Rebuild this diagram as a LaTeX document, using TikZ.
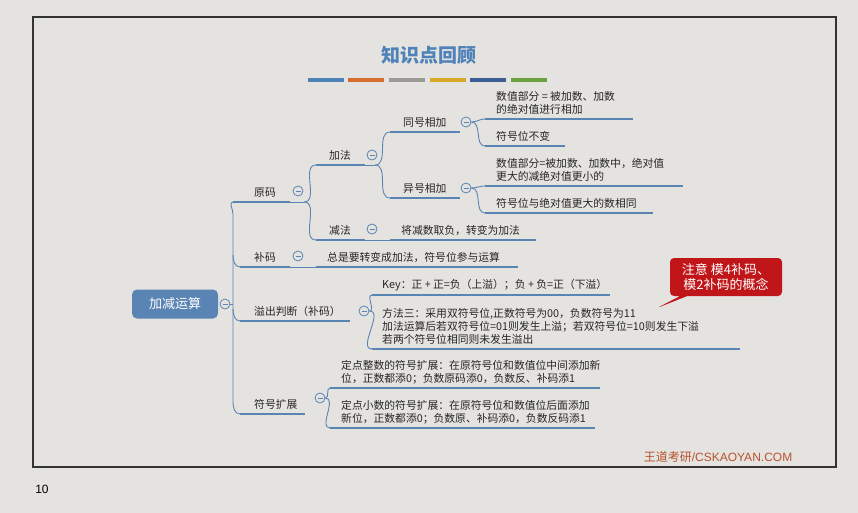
\documentclass[tikz,border=0pt]{standalone}
\usepackage{fontspec}
\setmainfont{Liberation Sans}
\newfontfamily\cjk{Noto Sans CJK SC}
\usetikzlibrary{shapes.callouts}
\definecolor{bg}{HTML}{E5E3E0}
\definecolor{ln}{HTML}{5A84B4}
\definecolor{tt}{HTML}{4F82B8}
\definecolor{rd}{HTML}{C0161A}
\definecolor{wm}{HTML}{B8522E}
\begin{document}
\begin{tikzpicture}[x=1pt,y=-1pt,
  txt/.style={anchor=south west,inner sep=1pt,align=left,font=\cjk\fontsize{10.8}{13}\selectfont,text=black!85},
  ul/.style={ln,line width=2.4pt},
  cn/.style={ln,line width=0.9pt},
  tog/.style={circle,draw=ln,line width=0.8pt,minimum size=10pt,inner sep=0pt,
    path picture={\draw[ln,line width=0.7pt] ([xshift=-2.5pt]path picture bounding box.center) -- ([xshift=2.5pt]path picture bounding box.center);}}]
\fill[bg] (0,0) rectangle (858,513);
\useasboundingbox (0,0) rectangle (858,513);
\draw[black!80,line width=1.2pt] (33,17) rectangle (836,467);
\node[font=\fontsize{12}{12}\selectfont] (pg) at (42,489) {10};
\node[font=\cjk\bfseries\fontsize{19}{19}\selectfont,text=tt] (title) at (429,55) {知识点回顾};
\foreach \a/\c in {308/4F82B8,348/D46E2C,389/9A9A9A,430/D8A82A,470/3E5E96,511/6AA040}{
  \definecolor{barc}{HTML}{\c}
  \fill[barc] (\a,78) rectangle ++(36,4);}
% root
\node[fill=ln,rounded corners=5pt,minimum width=86pt,minimum height=29pt,text=white,font=\cjk\fontsize{13}{13}\selectfont] (root) at (175,304) {加减运算};
\node[tog] (t0) at (225,304) {};
\newcommand\mitem[6]{% name, x1, x2, y, text x, text
  \draw[ul] (#2,#4) coordinate (#1s) -- (#3,#4) coordinate (#1e);
  \node[txt] (#1) at (#5,#4-3) {#6};}
\mitem{ym}{233}{290}{202}{253}{原码}
\mitem{bm}{240}{290}{267}{253}{补码}
\mitem{yc}{240}{350}{321}{253}{溢出判断（补码）}
\mitem{fh}{240}{305}{414}{253}{符号扩展}
\node[tog] (tym) at (298,191) {};
\node[tog] (tbm) at (298,256) {};
\node[tog] (tyc) at (364,311) {};
\node[tog] (tfh) at (320,398) {};
\draw[cn] (t0.east) -- (233,304);
\draw[cn] (233,304) -- (233,214) to[out=90,in=180] (yms);
\draw[cn] (233,304) -- (233,402) to[out=-90,in=180] (fhs);
\draw[cn] (233,255) to[out=-90,in=180] (bms);
\draw[cn] (233,309) to[out=-90,in=180] (ycs);
\mitem{jf}{316}{365}{165}{328}{加法}
\mitem{jn}{316}{365}{240}{328}{减法}
\node[tog] (tjf) at (372,155) {};
\node[tog] (tjn) at (372,229) {};
\draw[cn] (yme) -- ++(14,0) coordinate (f1);
\draw[cn] (f1) to[out=0,in=180] (jfs);
\draw[cn] (f1) to[out=0,in=180] (jns);
\mitem{th}{390}{460}{132}{402}{同号相加}
\mitem{yh}{390}{460}{198}{402}{异号相加}
\node[tog] (tth) at (466,122) {};
\node[tog] (tyh) at (466,188) {};
\draw[cn] (jfe) -- ++(10,0) coordinate (f2);
\draw[cn] (f2) to[out=0,in=180] (ths);
\draw[cn] (f2) to[out=0,in=180] (yhs);
\mitem{a1}{485}{633}{119}{495}{数值部分 = 被加数、加数\\的绝对值进行相加}
\mitem{a2}{485}{565}{146}{495}{符号位不变}
\draw[cn] (tth.east) to[out=0,in=180] (a1s);
\draw[cn] (tth.east) to[out=0,in=180] (a2s);
\mitem{b1}{485}{683}{186}{495}{数值部分=被加数、加数中，绝对值\\更大的减绝对值更小的}
\mitem{b2}{485}{653}{213}{495}{符号位与绝对值更大的数相同}
\draw[cn] (tyh.east) to[out=0,in=180] (b1s);
\draw[cn] (tyh.east) to[out=0,in=180] (b2s);
\mitem{c1}{390}{536}{240}{400}{将减数取负，转变为加法}
\draw[cn] (jne) -- (c1s);
\mitem{d1}{316}{518}{267}{326}{总是要转变成加法，符号位参与运算}
\draw[cn] (bme) -- (d1s);
\mitem{e1}{372}{610}{295}{381}{Key：正 + 正=负（上溢）；负 + 负=正（下溢）}
\mitem{e2}{372}{740}{349}{381}{方法三：采用双符号位,正数符号为00，负数符号为11\\加法运算后若双符号位=01则发生上溢；若双符号位=10则发生下溢\\若两个符号位相同则未发生溢出}
\draw[cn] (tyc.east) to[out=0,in=180] (e1s);
\draw[cn] (tyc.east) to[out=0,in=180] (e2s);
\mitem{g1}{330}{600}{388}{340}{定点整数的符号扩展：在原符号位和数值位中间添加新\\位，正数都添0；负数原码添0，负数反、补码添1}
\mitem{g2}{330}{595}{428}{340}{定点小数的符号扩展：在原符号位和数值位后面添加\\新位，正数都添0；负数原、补码添0，负数反码添1}
\draw[cn] (tfh.east) to[out=0,in=180] (g1s);
\draw[cn] (tfh.east) to[out=0,in=180] (g2s);
\node[rectangle callout,fill=rd,rounded corners=4pt,text=white,align=center,inner sep=3pt,minimum width=112pt,minimum height=38pt,callout absolute pointer={(657,308)},font=\cjk\fontsize{13}{15}\selectfont] (note) at (726,277) {注意 模4补码、\\模2补码的概念};
\node[text=wm,font=\fontsize{12}{14}\selectfont] (wmk) at (718,457) {{\cjk 王道考研}/CSKAOYAN.COM};
\end{tikzpicture}
\end{document}
